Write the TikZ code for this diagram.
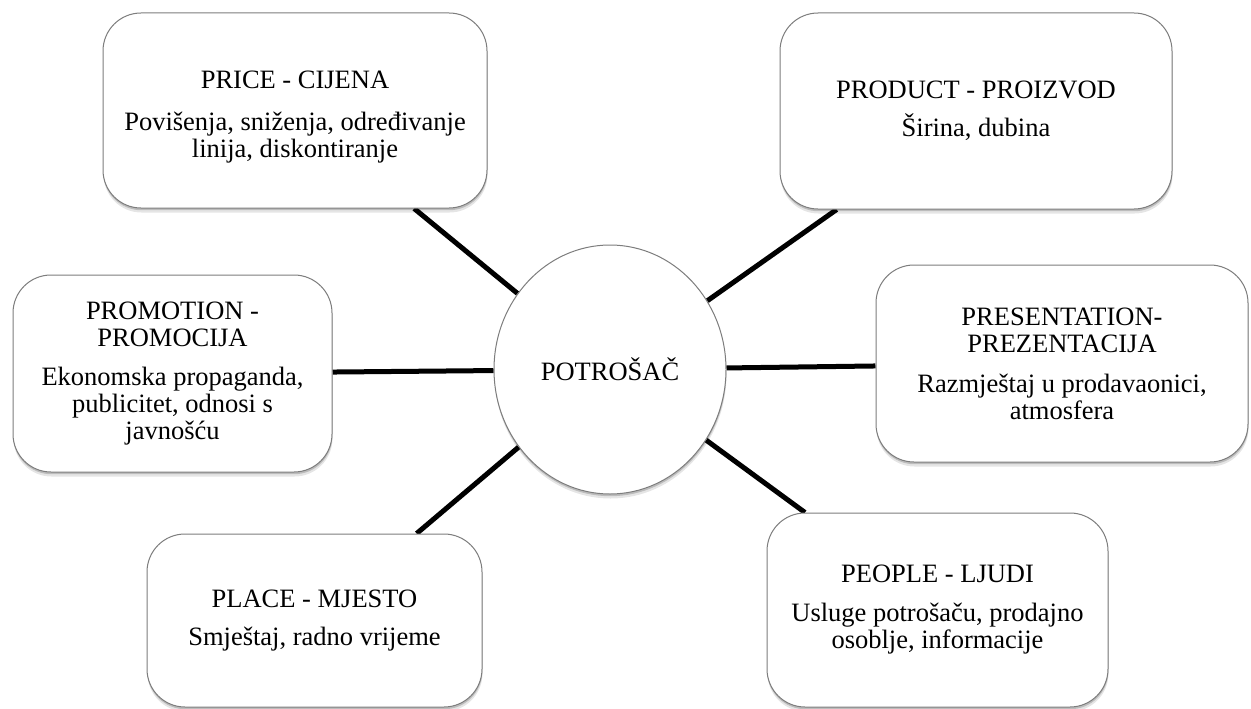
\documentclass[tikz,border=0pt]{standalone}
\usepackage{fontspec}
\setmainfont{Liberation Serif}
\usetikzlibrary{shapes.geometric,shadows,backgrounds}
\definecolor{bordergray}{RGB}{125,125,125}
\begin{document}
\begin{tikzpicture}[x=1pt,y=-1pt,
  softshadow/.style={
    drop shadow={shadow xshift=0.5pt,shadow yshift=-4.5pt,opacity=0.10,fill=black},
    drop shadow={shadow xshift=0.3pt,shadow yshift=-2.2pt,opacity=0.18,fill=black}},
  txt/.style={align=center,inner sep=0pt,font=\fontsize{26.5}{27}\selectfont},
  box/.style={txt,draw=bordergray,line width=1pt,fill=white,rounded corners=38pt,softshadow},
  hub/.style={txt,ellipse,draw=bordergray,line width=1pt,fill=white,softshadow,
    minimum width=232pt,minimum height=249pt},
  conn/.style={line width=5pt,draw=black}
]
\useasboundingbox (0,0) rectangle (1251,709);

\node[box,minimum width=384pt,minimum height=195pt] (price) at (295,110.5)
  {\rule{0pt}{31pt}PRICE - CIJENA\\[15pt]Povišenja, sniženja, određivanje\\linija, diskontiranje};
\node[box,minimum width=392pt,minimum height=196pt] (product) at (976,111)
  {PRODUCT - PROIZVOD\\[11pt]Širina, dubina};
\node[box,minimum width=319pt,minimum height=197pt] (promo) at (172.5,373.5)
  {PROMOTION -\\PROMOCIJA\\[12pt]Ekonomska propaganda,\\publicitet, odnosi s\\javnošću};
\node[box,minimum width=372pt,minimum height=197pt] (present) at (1062,363.5)
  {PRESENTATION-\\PREZENTACIJA\\[13pt]Razmještaj u prodavaonici,\\atmosfera};
\node[box,minimum width=335pt,minimum height=173pt] (place) at (314.5,620.5)
  {PLACE - MJESTO\\[11pt]Smještaj, radno vrijeme};
\node[box,minimum width=341pt,minimum height=194pt] (people) at (937.5,610)
  {PEOPLE - LJUDI\\[12pt]Usluge potrošaču, prodajno\\osoblje, informacije};
\node[hub] (circ) at (610,369.5) {POTROŠAČ};

\begin{scope}[on background layer]
  \draw[conn] (price) -- (circ);
  \draw[conn] (product) -- (circ);
  \draw[conn] (promo) -- (circ);
  \draw[conn] (present) -- (circ);
  \draw[conn] (place) -- (circ);
  \draw[conn] (people) -- (circ);
\end{scope}
\end{tikzpicture}
\end{document}
